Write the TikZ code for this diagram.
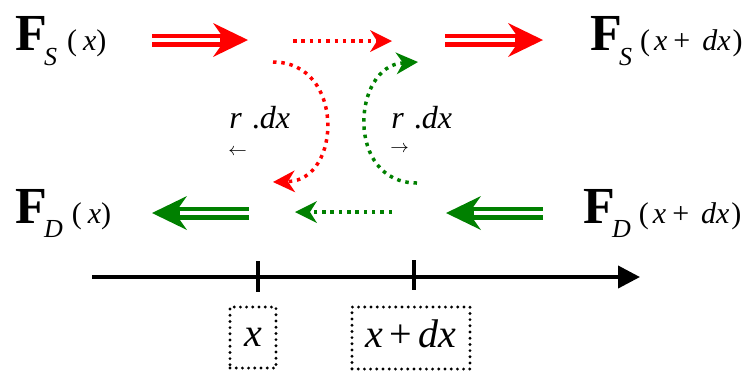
\documentclass[tikz,border=0pt]{standalone}
\usepackage{fontspec}
\setmainfont{Liberation Serif}
\usetikzlibrary{arrows.meta}
\definecolor{fred}{RGB}{255,0,0}
\definecolor{fgreen}{RGB}{0,128,0}
\newcommand{\fsz}[1]{\fontsize{#1}{#1}\selectfont}
\newcommand{\argx}{\fsz{15}(\hspace{3pt}\textit{x})}
\newcommand{\argxdx}{\fsz{15}(\hspace{2pt}\textit{x}\hspace{3pt}+\hspace{6pt}\textit{dx}\hspace{1pt})}

\begin{document}
\begin{tikzpicture}[x=0.5pt,y=-0.5pt,
    lbl/.style={inner sep=0pt,anchor=base west},
    dbl/.style={line width=6.5pt,-{Stealth[length=17.5pt,width=17pt,inset=6pt,line width=0pt]}},
    gap/.style={white,line width=2pt,shorten >=14pt},
    dots/.style={line width=1.75pt,dash pattern=on 1.75pt off 2.4pt,-{Stealth[length=11pt,width=11pt,inset=3.5pt,line width=0pt]}},
    posbox/.style={draw,line width=1.6pt,line cap=round,dash pattern=on 0pt off 3.1pt,inner sep=0pt,text height=9pt,text depth=0pt}]
\useasboundingbox (0,0) rectangle (753,372);

% force labels
\node[lbl] (fsx) at (15,50) {\fsz{26}\textbf{F}\hspace{-1.5pt}\raisebox{-7.5pt}{\fsz{13}\textit{S}}\hspace{5pt}\argx};
\node[lbl] (fsxdx) at (590,50) {\fsz{26}\textbf{F}\hspace{-1.5pt}\raisebox{-7.5pt}{\fsz{13}\textit{S}}\hspace{4pt}\argxdx};
\node[lbl] (fdx) at (15,223) {\fsz{26}\textbf{F}\hspace{-1.5pt}\raisebox{-7pt}{\fsz{13}\textit{D}}\hspace{4.5pt}\argx};
\node[lbl] (fdxdx) at (583,223) {\fsz{26}\textbf{F}\hspace{-1.5pt}\raisebox{-7pt}{\fsz{13}\textit{D}}\hspace{4pt}\argxdx};

% exchange rates
\node[lbl] (rleft) at (229,128) {\fsz{16}\textit{r}\hspace{5pt}.\textit{dx}};
\node[inner sep=0pt,anchor=west] (aleft) at (228,152) {\fsz{9}$\leftarrow$};
\node[lbl] (rright) at (391,128) {\fsz{16}\textit{r}\hspace{5pt}.\textit{dx}};
\node[inner sep=0pt,anchor=west] (aright) at (390,149) {\fsz{9}$\rightarrow$};

% arrow ends
\coordinate (s1a) at (152,40);  \coordinate (s1b) at (248,40);
\coordinate (s2a) at (445,40);  \coordinate (s2b) at (543,40);
\coordinate (d1a) at (249,213); \coordinate (d1b) at (152,213);
\coordinate (d2a) at (543,213); \coordinate (d2b) at (446,213);
\coordinate (sda) at (293,41);  \coordinate (sdb) at (392,41);
\coordinate (dda) at (392,212); \coordinate (ddb) at (295,212);
\coordinate (ra) at (273,62);   \coordinate (rb) at (273,182);
\coordinate (ga) at (417,183);  \coordinate (gb) at (418,62);

% fluxes
\draw[fred,dbl] (s1a) -- (s1b);   \draw[gap] (s1a) -- (s1b);
\draw[fred,dbl] (s2a) -- (s2b);   \draw[gap] (s2a) -- (s2b);
\draw[fgreen,dbl] (d1a) -- (d1b); \draw[gap] (d1a) -- (d1b);
\draw[fgreen,dbl] (d2a) -- (d2b); \draw[gap] (d2a) -- (d2b);
\draw[fred,dots] (sda) -- (sdb);
\draw[fgreen,dots] (dda) -- (ddb);
\draw[fred,dots] (ra) .. controls (345,62) and (342,180) .. (rb);
\draw[fgreen,dots] (ga) .. controls (345,183) and (352,66) .. (gb);

% axis
\coordinate (ax0) at (92,277); \coordinate (ax1) at (640,277);
\draw[line width=2pt,-{Triangle[length=11pt,width=11pt]}] (ax0) -- (ax1);
\draw[line width=2pt] (258,261) -- (258,292);
\draw[line width=2pt] (414,260) -- (414,290);
\node[posbox,minimum width=23pt,minimum height=30.5pt] (bx) at (253,337.5) {\fsz{20}\textit{x}\hspace{4pt}};
\node[posbox,minimum width=59pt,minimum height=31pt] (bxdx) at (411,338) {\fsz{20}\textit{x}\,+\,\textit{dx}\hspace{5pt}};
\end{tikzpicture}
\end{document}
